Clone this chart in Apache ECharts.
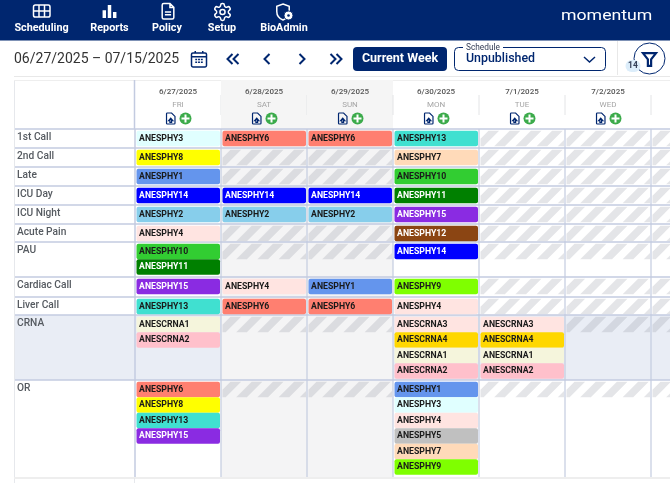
<!DOCTYPE html>
<html>
<head>
<meta charset="utf-8">
<style>html,body{margin:0;padding:0;background:#fff}#chart{width:670px;height:483px}</style>
<script src="https://cdn.jsdelivr.net/npm/echarts@6/dist/echarts.min.js"></script>
</head>
<body>
<div id="chart"></div>
<script>
// table data, one list per row, one entry per day
var days = ['6/27/2025', '6/28/2025', '6/29/2025', '6/30/2025', '7/1/2025', '7/2/2025', ''];
var weekdays = ['FRI', 'SAT', 'SUN', 'MON', 'TUE', 'WED', ''];
var rowNames = ['1st Call', '2nd Call', 'Late', 'ICU Day', 'ICU Night', 'Acute Pain', 'PAU', 'Cardiac Call', 'Liver Call', 'CRNA', 'OR'];
var rowHeights = [19, 19, 19, 19, 19, 18, 35, 20, 18, 65, 97];

var firstCall = [['ANESPHY3'], ['ANESPHY6'], ['ANESPHY6'], ['ANESPHY13'], [], [], []];
var secondCall = [['ANESPHY8'], [], [], ['ANESPHY7'], [], [], []];
var late = [['ANESPHY1'], [], [], ['ANESPHY10'], [], [], []];
var icuDay = [['ANESPHY14'], ['ANESPHY14'], ['ANESPHY14'], ['ANESPHY11'], [], [], []];
var icuNight = [['ANESPHY2'], ['ANESPHY2'], ['ANESPHY2'], ['ANESPHY15'], [], [], []];
var acutePain = [['ANESPHY4'], [], [], ['ANESPHY12'], [], [], []];
var pau = [['ANESPHY10', 'ANESPHY11'], [], [], ['ANESPHY14'], [], [], []];
var cardiacCall = [['ANESPHY15'], ['ANESPHY4'], ['ANESPHY1'], ['ANESPHY9'], [], [], []];
var liverCall = [['ANESPHY13'], ['ANESPHY6'], ['ANESPHY6'], ['ANESPHY4'], [], [], []];
var crna = [['ANESCRNA1', 'ANESCRNA2'], [], [], ['ANESCRNA3', 'ANESCRNA4', 'ANESCRNA1', 'ANESCRNA2'], ['ANESCRNA3', 'ANESCRNA4', 'ANESCRNA1', 'ANESCRNA2'], [], []];
var orRoom = [['ANESPHY6', 'ANESPHY8', 'ANESPHY13', 'ANESPHY15'], [], [], ['ANESPHY1', 'ANESPHY3', 'ANESPHY4', 'ANESPHY5', 'ANESPHY7', 'ANESPHY9'], [], [], []];
var rowData = [firstCall, secondCall, late, icuDay, icuNight, acutePain, pau, cardiacCall, liverCall, crna, orRoom];

var chipColors = {
    ANESPHY1: '#6495ED', ANESPHY2: '#87CEEB', ANESPHY3: '#E0FFFF', ANESPHY4: '#FFE4E1', ANESPHY5: '#C0C0C0',
    ANESPHY6: '#FF7F70', ANESPHY7: '#FFDAB9', ANESPHY8: '#FFFF00', ANESPHY9: '#7FFF00', ANESPHY10: '#32CD32',
    ANESPHY11: '#008000', ANESPHY12: '#8B4513', ANESPHY13: '#40E0D0', ANESPHY14: '#0000FF', ANESPHY15: '#8A2BE2',
    ANESCRNA1: '#F5F5DC', ANESCRNA2: '#FFC0CB', ANESCRNA3: '#FFE4E1', ANESCRNA4: '#FFD700'
};
var whiteText = ['ANESPHY11', 'ANESPHY12', 'ANESPHY14', 'ANESPHY15'];

var NAVY = '#00266F';
var LINE = '#C3CBE0';
var FONT = 'Roboto';
var LABEL_W = 120;
var CHIP_H = 15.5;

// row tops in axis units
var rowTops = [];
var total = 0;
for (var r = 0; r < rowHeights.length; r++) {
    rowTops.push(total);
    total += rowHeights[r];
}

// flatten table into series data
var cellData = [], chipData = [];
for (var r = 0; r < rowData.length; r++) {
    for (var d = 0; d < days.length; d++) {
        var names = rowData[r][d];
        cellData.push([d, rowTops[r], r, names.length]);
        for (var s = 0; s < names.length; s++) {
            chipData.push([d, rowTops[r] + 1.7 + s * CHIP_H, names[s]]);
        }
    }
}

function txt(x, y, text, size, fill, weight, align) {
    return {
        type: 'text', x: x, y: y,
        style: {
            text: text, fill: fill, fontFamily: FONT, fontSize: size, fontWeight: weight || 400,
            align: align || 'center', verticalAlign: 'middle',
            textAlign: align || 'center', textVerticalAlign: 'middle'
        }
    };
}

function icon(d, x, y, w, h, style) {
    return { type: 'path', shape: { pathData: d, x: x, y: y, width: w, height: h }, style: style };
}

// clip polygon to x range
function clipX(pts, xMin, xMax) {
    function pass(list, limit, keepGreater) {
        var out = [];
        for (var i = 0; i < list.length; i++) {
            var a = list[i], b = list[(i + 1) % list.length];
            var ina = keepGreater ? a[0] >= limit : a[0] <= limit;
            var inb = keepGreater ? b[0] >= limit : b[0] <= limit;
            if (ina) out.push(a);
            if (ina !== inb) {
                var t = (limit - a[0]) / (b[0] - a[0]);
                out.push([limit, a[1] + t * (b[1] - a[1])]);
            }
        }
        return out;
    }
    return pass(pass(pts, xMin, true), xMax, false);
}

function renderCell(params, api) {
    var d = api.value(0), r = api.value(2);
    var c = api.coord([d, rowTops[r]]);
    var bottom = api.coord([d, rowTops[r] + rowHeights[r]])[1];
    var w = api.size([1, 0])[0];
    var x1 = c[0] - w / 2, y1 = c[1];
    var weekend = d === 1 || d === 2;
    var bg = weekend ? '#F4F4F5' : (r === 9 ? '#E9EDF5' : '#FFFFFF');
    var kids = [{ type: 'rect', shape: { x: x1, y: y1, width: w, height: bottom - y1 }, style: { fill: bg } }];
    if (api.value(3) === 0) {
        var top = y1 + 1.7, h = CHIP_H, left = x1 + 1.5, right = x1 + w - 1;
        for (var k = -1; k < 6; k++) {
            var sx = left + 8 + k * 21.2;
            var poly = clipX([[sx, top], [sx + 10.6, top], [sx + 10.6 - h, top + h], [sx - h, top + h]], left, right);
            if (poly.length) {
                kids.push({ type: 'polygon', shape: { points: poly }, style: { fill: 'rgba(138,142,155,0.23)' } });
            }
        }
    }
    return { type: 'group', children: kids };
}

function renderChip(params, api) {
    var item = chipData[params.dataIndex];
    var c = api.coord([item[0], item[1]]);
    var w = api.size([1, 0])[0];
    var x = c[0] - w / 2 + 1.5;
    return {
        type: 'group',
        children: [
            { type: 'rect', shape: { x: x, y: c[1], width: w - 2.5, height: CHIP_H, r: 2 }, style: { fill: chipColors[item[2]] } },
            txt(x + 2.6, c[1] + CHIP_H / 2, item[2], 8.7, whiteText.indexOf(item[2]) >= 0 ? '#FFFFFF' : '#1A1A1A', 700, 'left')
        ]
    };
}

function renderRowLine(params, api) {
    var left = api.coord([0, 0])[0] - api.size([1, 0])[0] / 2;
    var y = api.coord([0, api.value(0)])[1];
    var r = params.dataIndex;
    var kids = [];
    if (r === 9) {
        kids.push({ type: 'rect', shape: { x: left - LABEL_W, y: y, width: LABEL_W, height: rowHeights[r] }, style: { fill: '#E9EDF5' } });
    }
    kids.push({ type: 'line', shape: { x1: left - LABEL_W, y1: y, x2: 670, y2: y }, style: { stroke: LINE, lineWidth: 1.5 } });
    kids.push(txt(left - LABEL_W + 2, y + 8, rowNames[r], 10.2, '#555A60', 500, 'left'));
    return { type: 'group', children: kids };
}

function renderColLine(params, api) {
    var d = api.value(0);
    var c = api.coord([d, 0]);
    var w = api.size([1, 0])[0];
    var x = c[0] - w / 2;
    var bottom = api.coord([d, total])[1];
    return { type: 'line', shape: { x1: x, y1: c[1], x2: x, y2: bottom }, style: { stroke: LINE, lineWidth: d === 0 ? 1.5 : 1.2 } };
}

var DOC_PATH = 'M1 0h5l4 4v8a1 1 0 0 1-1 1H1a1 1 0 0 1-1-1V1a1 1 0 0 1 1-1z M5 6l-2.5 3h1.5v2h2V9h1.5z';

function renderHeader(params, api) {
    var d = api.value(0);
    var c = api.coord([d, 0]);
    var w = api.size([1, 0])[0];
    var x = c[0] - w / 2, top = c[1] - 49;
    var kids = [];
    if (d === 1 || d === 2) {
        kids.push({ type: 'rect', shape: { x: x, y: top, width: w, height: 49 }, style: { fill: '#F5F5F5' } });
    }
    kids.push({ type: 'line', shape: { x1: x + w, y1: top + 15, x2: x + w, y2: top + 35 }, style: { stroke: '#E3E4E6', lineWidth: 1 } });
    if (days[d]) {
        kids.push(icon(DOC_PATH, c[0] - 11.5, top + 33, 8.5, 11, { fill: 'none', stroke: NAVY, lineWidth: 1.2 }));
        kids.push({ type: 'circle', shape: { cx: c[0] + 7.5, cy: top + 38.5, r: 6 }, style: { fill: '#3CAB4B' } });
        kids.push(icon('M3 0h2v3h3v2H5v3H3V5H0V3h3z', c[0] + 3.5, top + 34.5, 8, 8, { fill: '#FFFFFF' }));
    }
    return { type: 'group', children: kids };
}

var rowLineData = rowTops.map(function (v) { return [v]; });
var dayData = days.map(function (v, i) { return [i]; });

// page chrome around the table
function chevron(x, y, dir) {
    return { type: 'polyline', shape: { points: [[x - 2.5 * dir, y - 5], [x + 2.5 * dir, y], [x - 2.5 * dir, y + 5]] }, style: { fill: 'none', stroke: NAVY, lineWidth: 2 } };
}
var whiteLine = { fill: 'none', stroke: '#FFFFFF', lineWidth: 1.5 };
var navyLine = { fill: 'none', stroke: NAVY, lineWidth: 1.5 };
var GEAR = 'M12.22 2h-.44a2 2 0 0 0-2 2v.18a2 2 0 0 1-1 1.73l-.43.25a2 2 0 0 1-2 0l-.15-.08a2 2 0 0 0-2.73.73l-.22.38a2 2 0 0 0 .73 2.73l.15.1a2 2 0 0 1 1 1.72v.51a2 2 0 0 1-1 1.74l-.15.09a2 2 0 0 0-.73 2.73l.22.38a2 2 0 0 0 2.73.73l.15-.08a2 2 0 0 1 2 0l.43.25a2 2 0 0 1 1 1.73V20a2 2 0 0 0 2 2h.44a2 2 0 0 0 2-2v-.18a2 2 0 0 1 1-1.73l.43-.25a2 2 0 0 1 2 0l.15.08a2 2 0 0 0 2.73-.73l.22-.39a2 2 0 0 0-.73-2.73l-.15-.08a2 2 0 0 1-1-1.74v-.5a2 2 0 0 1 1-1.74l.15-.09a2 2 0 0 0 .73-2.73l-.22-.38a2 2 0 0 0-2.73-.73l-.15.08a2 2 0 0 1-2 0l-.43-.25a2 2 0 0 1-1-1.73V4a2 2 0 0 0-2-2z M15 12a3 3 0 1 1-6 0 3 3 0 0 1 6 0z';

function renderChrome() {
    var logo = txt(561, 16.5, 'momentum', 15, '#FFFFFF', 400, 'left');
    logo.scaleX = 1.18;
    var items = [
        { type: 'rect', shape: { x: 0, y: 0, width: 670, height: 40.5 }, style: { fill: NAVY } },
        icon('M2 0h14a2 2 0 0 1 2 2v9a2 2 0 0 1-2 2H2a2 2 0 0 1-2-2V2a2 2 0 0 1 2-2z M6 0v13 M12 0v13 M0 6.5h18', 33.5, 5, 16.5, 12, whiteLine),
        icon('M0 6h4v9H0z M6 0h4v15H6z M12 8h4v7h-4z', 102, 5, 15, 13, { fill: '#FFFFFF' }),
        icon('M2 0h8l5 5v13a2 2 0 0 1-2 2H2a2 2 0 0 1-2-2V2a2 2 0 0 1 2-2z M10 0v5h5 M3.5 11h8 M3.5 14.5h8', 161.5, 3.5, 13, 15.5, whiteLine),
        icon(GEAR, 214, 3.5, 17, 17, whiteLine),
        icon('M8 0l7 2.5v6c0 4.5-3 8-7 9.5c-4-1.5-7-5-7-9.5v-6z', 276, 4, 14, 16, whiteLine),
        { type: 'circle', shape: { cx: 288.5, cy: 15.5, r: 4.5 }, style: { fill: '#FFFFFF', stroke: NAVY, lineWidth: 1 } },
        { type: 'circle', shape: { cx: 288.5, cy: 15.5, r: 1.3 }, style: { fill: NAVY } },
        txt(41.5, 28, 'Scheduling', 10.8, '#FFFFFF', 700),
        txt(109.5, 28, 'Reports', 10.8, '#FFFFFF', 700),
        txt(167, 28, 'Policy', 10.8, '#FFFFFF', 700),
        txt(222, 28, 'Setup', 10.8, '#FFFFFF', 700),
        txt(284, 28, 'BioAdmin', 10.8, '#FFFFFF', 700),
        logo,
        txt(14, 59, '06/27/2025 – 07/15/2025', 14, '#333333', 400, 'left'),
        icon('M1.5 2h13a1.5 1.5 0 0 1 1.5 1.5v12a1.5 1.5 0 0 1-1.5 1.5h-13a1.5 1.5 0 0 1-1.5-1.5v-12a1.5 1.5 0 0 1 1.5-1.5z M0 6h16 M4 0v3 M12 0v3 M4 9h2 M7 9h2 M10 9h2 M4 12h2 M7 12h2 M10 12h2', 191.5, 50.5, 15, 17, navyLine),
        chevron(230, 59, -1), chevron(236, 59, -1),
        chevron(267, 59, -1),
        chevron(302, 59, 1),
        chevron(333, 59, 1), chevron(339, 59, 1),
        { type: 'rect', shape: { x: 353, y: 47, width: 94, height: 24, r: 4 }, style: { fill: NAVY } },
        txt(400, 58.5, 'Current Week', 12.5, '#FFFFFF', 700),
        { type: 'rect', shape: { x: 454.5, y: 47.5, width: 151, height: 23, r: 4 }, style: { fill: '#FFFFFF', stroke: NAVY, lineWidth: 1 } },
        { type: 'rect', shape: { x: 463, y: 44, width: 40, height: 6 }, style: { fill: '#FFFFFF' } },
        txt(466, 47.5, 'Schedule', 8.3, '#333D55', 400, 'left'),
        txt(466, 59, 'Unpublished', 12.4, NAVY, 500, 'left'),
        { type: 'polyline', shape: { points: [[584, 57], [589.5, 62], [595, 57]] }, style: { fill: 'none', stroke: NAVY, lineWidth: 1.5 } },
        { type: 'line', shape: { x1: 617.5, y1: 41, x2: 617.5, y2: 75 }, style: { stroke: '#E8E8E8', lineWidth: 1 } },
        { type: 'line', shape: { x1: 14, y1: 76.5, x2: 670, y2: 76.5 }, style: { stroke: '#E8E8E8', lineWidth: 1 } },
        { type: 'circle', shape: { cx: 649.5, cy: 58.5, r: 15.5 }, style: { fill: '#FFFFFF', stroke: NAVY, lineWidth: 1 } },
        icon('M0 0h16l-6 7.5v8h-4v-8z', 643, 52.5, 13, 14, { fill: 'none', stroke: NAVY, lineWidth: 2.2 }),
        { type: 'rect', shape: { x: 625.5, y: 60, width: 15, height: 12, r: 6 }, style: { fill: '#DCEDFA' } },
        txt(633, 66, '14', 8.5, '#333D55', 700),
        { type: 'line', shape: { x1: 14.5, y1: 80, x2: 14.5, y2: 483 }, style: { stroke: '#E6E8EC', lineWidth: 1 } },
        { type: 'line', shape: { x1: 14, y1: 80.5, x2: 670, y2: 80.5 }, style: { stroke: '#EEEEEE', lineWidth: 1 } },
        { type: 'line', shape: { x1: 14, y1: 478, x2: 670, y2: 478 }, style: { stroke: '#EEEEEE', lineWidth: 2 } },
        { type: 'line', shape: { x1: 134.5, y1: 478, x2: 134.5, y2: 483 }, style: { stroke: '#E6E8EC', lineWidth: 1 } },
        { type: 'line', shape: { x1: 134.5, y1: 80, x2: 134.5, y2: 129 }, style: { stroke: LINE, lineWidth: 1.5 } }
    ];
    return { type: 'group', children: items };
}

var chart = echarts.init(document.getElementById('chart'), null, { renderer: 'canvas' });
chart.setOption({
    animation: false,
    textStyle: { fontFamily: FONT },
    grid: { left: 135, top: 129, width: 602, height: 348, outerBoundsMode: 'none' },
    xAxis: {
        type: 'category',
        position: 'top',
        data: days,
        z: 10,
        axisLine: { show: false },
        axisTick: { show: false },
        splitLine: { show: false },
        axisLabel: {
            interval: 0,
            margin: 18,
            formatter: function (value, index) {
                return '{d|' + value + '}\n{w|' + weekdays[index] + '}';
            },
            rich: {
                d: { fontFamily: FONT, fontSize: 8, fontWeight: 500, color: '#555555', lineHeight: 13, align: 'center' },
                w: { fontFamily: FONT, fontSize: 8, fontWeight: 400, color: '#A5A5A5', lineHeight: 13, align: 'center' }
            }
        }
    },
    yAxis: { type: 'value', min: 0, max: total, inverse: true, show: false },
    series: [
        { type: 'custom', z: 0, renderItem: renderChrome, data: [[0]], encode: { x: 0 }, silent: true },
        { type: 'custom', z: 1, renderItem: renderHeader, data: dayData, encode: { x: 0 }, silent: true },
        { type: 'custom', z: 2, renderItem: renderCell, data: cellData, encode: { x: 0, y: 1 }, silent: true },
        { type: 'custom', z: 3, renderItem: renderRowLine, data: rowLineData, encode: { y: 0 }, silent: true },
        { type: 'custom', z: 3, renderItem: renderColLine, data: dayData, encode: { x: 0 }, silent: true },
        { type: 'custom', z: 4, renderItem: renderChip, data: chipData, encode: { x: 0, y: 1 }, silent: true }
    ]
});
</script>
</body>
</html>
